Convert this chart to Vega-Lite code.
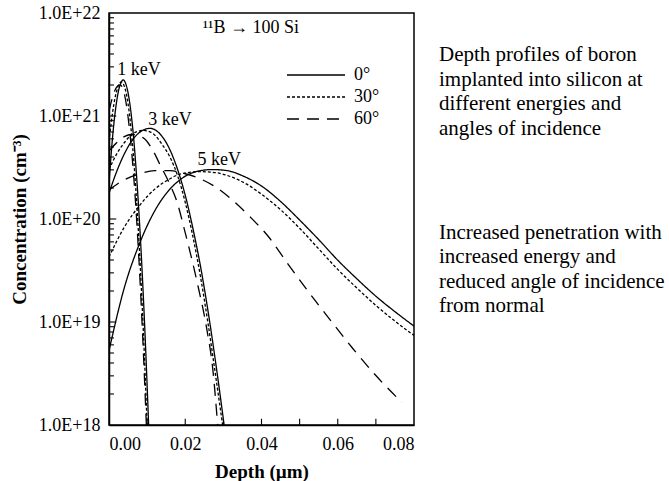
{
  "$schema": "https://vega.github.io/schema/vega-lite/v6.json",
  "width": 305,
  "height": 412,
  "autosize": "none",
  "padding": {"left": 109, "top": 13, "right": 255, "bottom": 56},
  "config": {
    "view": {"stroke": "#000", "strokeWidth": 1.5},
    "font": "Liberation Serif",
    "axis": {"grid": false, "labelFontSize": 18}
  },
  "title": {
    "text": ["Depth profiles of boron", "implanted into silicon at", "different energies and", "angles of incidence"],
    "subtitle": ["Increased penetration with", "increased energy and", "reduced angle of incidence", "from normal"],
    "anchor": "start",
    "frame": "group",
    "orient": "top",
    "dx": 330,
    "dy": 316,
    "font": "Liberation Serif",
    "fontSize": 21,
    "fontWeight": "normal",
    "color": "#000",
    "lineHeight": 24.5,
    "subtitleFont": "Liberation Serif",
    "subtitleFontSize": 21,
    "subtitleColor": "#000",
    "subtitleLineHeight": 24.5,
    "subtitlePadding": 83
  },
  "layer": [
    {
      "data": {"values": [
        {"E": "1 keV", "A": "0°", "d": 0, "c": 2.24e20},
        {"E": "1 keV", "A": "0°", "d": 0.0005, "c": 3.98e20},
        {"E": "1 keV", "A": "0°", "d": 0.001, "c": 6.61e20},
        {"E": "1 keV", "A": "0°", "d": 0.0015, "c": 1.0e21},
        {"E": "1 keV", "A": "0°", "d": 0.002, "c": 1.38e21},
        {"E": "1 keV", "A": "0°", "d": 0.0025, "c": 1.76e21},
        {"E": "1 keV", "A": "0°", "d": 0.003, "c": 2.04e21},
        {"E": "1 keV", "A": "0°", "d": 0.0037, "c": 2.24e21},
        {"E": "1 keV", "A": "0°", "d": 0.0045, "c": 2.0e21},
        {"E": "1 keV", "A": "0°", "d": 0.0055, "c": 1.29e21},
        {"E": "1 keV", "A": "0°", "d": 0.0065, "c": 5.89e20},
        {"E": "1 keV", "A": "0°", "d": 0.0075, "c": 1.86e20},
        {"E": "1 keV", "A": "0°", "d": 0.0085, "c": 4.27e19},
        {"E": "1 keV", "A": "0°", "d": 0.0095, "c": 6.92e18},
        {"E": "1 keV", "A": "0°", "d": 0.0104, "c": 1.0e18},

        {"E": "1 keV", "A": "30°", "d": 0, "c": 5.62e20},
        {"E": "1 keV", "A": "30°", "d": 0.0005, "c": 8.13e20},
        {"E": "1 keV", "A": "30°", "d": 0.001, "c": 1.12e21},
        {"E": "1 keV", "A": "30°", "d": 0.0015, "c": 1.45e21},
        {"E": "1 keV", "A": "30°", "d": 0.002, "c": 1.74e21},
        {"E": "1 keV", "A": "30°", "d": 0.0025, "c": 2.0e21},
        {"E": "1 keV", "A": "30°", "d": 0.0033, "c": 2.14e21},
        {"E": "1 keV", "A": "30°", "d": 0.004, "c": 1.95e21},
        {"E": "1 keV", "A": "30°", "d": 0.005, "c": 1.32e21},
        {"E": "1 keV", "A": "30°", "d": 0.006, "c": 6.17e20},
        {"E": "1 keV", "A": "30°", "d": 0.007, "c": 2.04e20},
        {"E": "1 keV", "A": "30°", "d": 0.008, "c": 4.9e19},
        {"E": "1 keV", "A": "30°", "d": 0.009, "c": 8.32e18},
        {"E": "1 keV", "A": "30°", "d": 0.01, "c": 1.0e18},

        {"E": "1 keV", "A": "60°", "d": 0, "c": 1.12e21},
        {"E": "1 keV", "A": "60°", "d": 0.001, "c": 1.55e21},
        {"E": "1 keV", "A": "60°", "d": 0.002, "c": 1.91e21},
        {"E": "1 keV", "A": "60°", "d": 0.0029, "c": 2.0e21},
        {"E": "1 keV", "A": "60°", "d": 0.004, "c": 1.66e21},
        {"E": "1 keV", "A": "60°", "d": 0.005, "c": 9.77e20},
        {"E": "1 keV", "A": "60°", "d": 0.006, "c": 4.27e20},
        {"E": "1 keV", "A": "60°", "d": 0.007, "c": 1.38e20},
        {"E": "1 keV", "A": "60°", "d": 0.008, "c": 3.16e19},
        {"E": "1 keV", "A": "60°", "d": 0.009, "c": 5.25e18},
        {"E": "1 keV", "A": "60°", "d": 0.0098, "c": 1.0e18},

        {"E": "3 keV", "A": "0°", "d": 0, "c": 1.78e20},
        {"E": "3 keV", "A": "0°", "d": 0.002, "c": 2.88e20},
        {"E": "3 keV", "A": "0°", "d": 0.004, "c": 4.27e20},
        {"E": "3 keV", "A": "0°", "d": 0.006, "c": 5.75e20},
        {"E": "3 keV", "A": "0°", "d": 0.008, "c": 6.92e20},
        {"E": "3 keV", "A": "0°", "d": 0.0108, "c": 7.59e20},
        {"E": "3 keV", "A": "0°", "d": 0.013, "c": 6.92e20},
        {"E": "3 keV", "A": "0°", "d": 0.016, "c": 4.68e20},
        {"E": "3 keV", "A": "0°", "d": 0.018, "c": 3.02e20},
        {"E": "3 keV", "A": "0°", "d": 0.02, "c": 1.7e20},
        {"E": "3 keV", "A": "0°", "d": 0.022, "c": 8.13e19},
        {"E": "3 keV", "A": "0°", "d": 0.024, "c": 3.47e19},
        {"E": "3 keV", "A": "0°", "d": 0.026, "c": 1.26e19},
        {"E": "3 keV", "A": "0°", "d": 0.028, "c": 3.98e18},
        {"E": "3 keV", "A": "0°", "d": 0.0302, "c": 1.0e18},

        {"E": "3 keV", "A": "30°", "d": 0, "c": 3.02e20},
        {"E": "3 keV", "A": "30°", "d": 0.002, "c": 4.27e20},
        {"E": "3 keV", "A": "30°", "d": 0.004, "c": 5.5e20},
        {"E": "3 keV", "A": "30°", "d": 0.006, "c": 6.61e20},
        {"E": "3 keV", "A": "30°", "d": 0.009, "c": 7.24e20},
        {"E": "3 keV", "A": "30°", "d": 0.0115, "c": 6.76e20},
        {"E": "3 keV", "A": "30°", "d": 0.014, "c": 5.25e20},
        {"E": "3 keV", "A": "30°", "d": 0.016, "c": 3.98e20},
        {"E": "3 keV", "A": "30°", "d": 0.018, "c": 2.63e20},
        {"E": "3 keV", "A": "30°", "d": 0.02, "c": 1.45e20},
        {"E": "3 keV", "A": "30°", "d": 0.022, "c": 6.76e19},
        {"E": "3 keV", "A": "30°", "d": 0.024, "c": 2.75e19},
        {"E": "3 keV", "A": "30°", "d": 0.026, "c": 9.55e18},
        {"E": "3 keV", "A": "30°", "d": 0.028, "c": 2.95e18},
        {"E": "3 keV", "A": "30°", "d": 0.0298, "c": 1.0e18},

        {"E": "3 keV", "A": "60°", "d": 0, "c": 4.57e20},
        {"E": "3 keV", "A": "60°", "d": 0.002, "c": 5.5e20},
        {"E": "3 keV", "A": "60°", "d": 0.004, "c": 6.31e20},
        {"E": "3 keV", "A": "60°", "d": 0.006, "c": 6.61e20},
        {"E": "3 keV", "A": "60°", "d": 0.0089, "c": 6.17e20},
        {"E": "3 keV", "A": "60°", "d": 0.0113, "c": 4.79e20},
        {"E": "3 keV", "A": "60°", "d": 0.0136, "c": 3.24e20},
        {"E": "3 keV", "A": "60°", "d": 0.0158, "c": 2.24e20},
        {"E": "3 keV", "A": "60°", "d": 0.0178, "c": 1.48e20},
        {"E": "3 keV", "A": "60°", "d": 0.0199, "c": 7.59e19},
        {"E": "3 keV", "A": "60°", "d": 0.0231, "c": 2.45e19},
        {"E": "3 keV", "A": "60°", "d": 0.0257, "c": 8.32e18},
        {"E": "3 keV", "A": "60°", "d": 0.0272, "c": 3.55e18},
        {"E": "3 keV", "A": "60°", "d": 0.0285, "c": 1.0e18},

        {"E": "5 keV", "A": "0°", "d": 0, "c": 5.25e18},
        {"E": "5 keV", "A": "0°", "d": 0.004, "c": 2.14e19},
        {"E": "5 keV", "A": "0°", "d": 0.0081, "c": 5.89e19},
        {"E": "5 keV", "A": "0°", "d": 0.012, "c": 1.2e20},
        {"E": "5 keV", "A": "0°", "d": 0.0155, "c": 1.86e20},
        {"E": "5 keV", "A": "0°", "d": 0.0186, "c": 2.4e20},
        {"E": "5 keV", "A": "0°", "d": 0.022, "c": 2.82e20},
        {"E": "5 keV", "A": "0°", "d": 0.027, "c": 3.02e20},
        {"E": "5 keV", "A": "0°", "d": 0.031, "c": 2.95e20},
        {"E": "5 keV", "A": "0°", "d": 0.035, "c": 2.63e20},
        {"E": "5 keV", "A": "0°", "d": 0.04, "c": 2.09e20},
        {"E": "5 keV", "A": "0°", "d": 0.045, "c": 1.48e20},
        {"E": "5 keV", "A": "0°", "d": 0.05, "c": 9.77e19},
        {"E": "5 keV", "A": "0°", "d": 0.055, "c": 6.31e19},
        {"E": "5 keV", "A": "0°", "d": 0.06, "c": 3.98e19},
        {"E": "5 keV", "A": "0°", "d": 0.065, "c": 2.63e19},
        {"E": "5 keV", "A": "0°", "d": 0.07, "c": 1.78e19},
        {"E": "5 keV", "A": "0°", "d": 0.075, "c": 1.26e19},
        {"E": "5 keV", "A": "0°", "d": 0.08, "c": 9.12e18},

        {"E": "5 keV", "A": "30°", "d": 0, "c": 4.27e19},
        {"E": "5 keV", "A": "30°", "d": 0.004, "c": 8.32e19},
        {"E": "5 keV", "A": "30°", "d": 0.008, "c": 1.35e20},
        {"E": "5 keV", "A": "30°", "d": 0.012, "c": 1.95e20},
        {"E": "5 keV", "A": "30°", "d": 0.0155, "c": 2.4e20},
        {"E": "5 keV", "A": "30°", "d": 0.019, "c": 2.75e20},
        {"E": "5 keV", "A": "30°", "d": 0.024, "c": 2.88e20},
        {"E": "5 keV", "A": "30°", "d": 0.028, "c": 2.82e20},
        {"E": "5 keV", "A": "30°", "d": 0.032, "c": 2.57e20},
        {"E": "5 keV", "A": "30°", "d": 0.036, "c": 2.19e20},
        {"E": "5 keV", "A": "30°", "d": 0.04, "c": 1.74e20},
        {"E": "5 keV", "A": "30°", "d": 0.045, "c": 1.23e20},
        {"E": "5 keV", "A": "30°", "d": 0.05, "c": 8.13e19},
        {"E": "5 keV", "A": "30°", "d": 0.055, "c": 5.13e19},
        {"E": "5 keV", "A": "30°", "d": 0.06, "c": 3.24e19},
        {"E": "5 keV", "A": "30°", "d": 0.065, "c": 2.14e19},
        {"E": "5 keV", "A": "30°", "d": 0.07, "c": 1.45e19},
        {"E": "5 keV", "A": "30°", "d": 0.075, "c": 1.02e19},
        {"E": "5 keV", "A": "30°", "d": 0.08, "c": 7.41e18},

        {"E": "5 keV", "A": "60°", "d": 0, "c": 1.91e20},
        {"E": "5 keV", "A": "60°", "d": 0.004, "c": 2.4e20},
        {"E": "5 keV", "A": "60°", "d": 0.008, "c": 2.75e20},
        {"E": "5 keV", "A": "60°", "d": 0.012, "c": 2.95e20},
        {"E": "5 keV", "A": "60°", "d": 0.016, "c": 2.95e20},
        {"E": "5 keV", "A": "60°", "d": 0.02, "c": 2.75e20},
        {"E": "5 keV", "A": "60°", "d": 0.024, "c": 2.45e20},
        {"E": "5 keV", "A": "60°", "d": 0.028, "c": 2.04e20},
        {"E": "5 keV", "A": "60°", "d": 0.0325, "c": 1.51e20},
        {"E": "5 keV", "A": "60°", "d": 0.037, "c": 1.05e20},
        {"E": "5 keV", "A": "60°", "d": 0.042, "c": 6.61e19},
        {"E": "5 keV", "A": "60°", "d": 0.047, "c": 3.63e19},
        {"E": "5 keV", "A": "60°", "d": 0.052, "c": 2.04e19},
        {"E": "5 keV", "A": "60°", "d": 0.058, "c": 1.05e19},
        {"E": "5 keV", "A": "60°", "d": 0.064, "c": 5.5e18},
        {"E": "5 keV", "A": "60°", "d": 0.07, "c": 3.02e18},
        {"E": "5 keV", "A": "60°", "d": 0.0768, "c": 1.66e18}
      ]},
      "mark": {"type": "line", "interpolate": "monotone", "color": "#000", "strokeWidth": 1.3, "clip": true},
      "encoding": {
        "x": {
          "field": "d", "type": "quantitative",
          "title": "Depth (µm)",
          "scale": {"domain": [0, 0.08], "nice": false, "zero": false},
          "axis": {
            "values": [0, 0.02, 0.04, 0.06, 0.08],
            "format": ".2f",
            "ticks": false,
            "domainColor": "#000", "domainWidth": 1.5,
            "labelColor": "#000", "labelFont": "Liberation Serif", "labelFontSize": 18,
            "titleColor": "#000", "titleFont": "Liberation Serif", "titleFontSize": 19, "titleFontWeight": "bold",
            "labelPadding": 10,
            "titlePadding": 9
          }
        },
        "y": {
          "field": "c", "type": "quantitative",
          "title": "Concentration (cm⁻³)",
          "scale": {"type": "log", "domain": [1e18, 1e22], "nice": false},
          "axis": {
            "values": [1e18, 1e19, 1e20, 1e21, 1e22],
            "labelExpr": "replace(format(datum.value, '.1e'), 'e', 'E')",
            "ticks": false,
            "domainColor": "#000", "domainWidth": 1.5,
            "labelColor": "#000", "labelFont": "Liberation Serif", "labelFontSize": 18,
            "titleColor": "#000", "titleFont": "Liberation Serif", "titleFontSize": 19, "titleFontWeight": "bold",
            "labelPadding": 9,
            "titlePadding": 9
          }
        },
        "strokeDash": {
          "field": "A", "type": "nominal",
          "scale": {"domain": ["0°", "30°", "60°"], "range": [[1, 0], [3, 2], [12, 8]]},
          "legend": {
            "title": null,
            "orient": "none",
            "legendX": 196,
            "legendY": 51,
            "symbolType": "M-2.9,0H2.9",
            "symbolSize": 400,
            "symbolStrokeWidth": 1.3,
            "symbolStrokeColor": "#000",
            "symbolFillColor": "transparent",
            "labelFont": "Liberation Serif",
            "labelFontSize": 18,
            "labelColor": "#000",
            "labelOffset": 27,
            "rowPadding": 2
          }
        },
        "detail": {"field": "E"}
      }
    },
    {
      "data": {"values": [
        {"t": "1 keV", "d": 0.0079, "c": 2.8e21},
        {"t": "3 keV", "d": 0.016, "c": 9.2e20},
        {"t": "5 keV", "d": 0.0289, "c": 3.7e20},
        {"t": "¹¹B → 100 Si", "d": 0.0372, "c": 7.1e21}
      ]},
      "mark": {"type": "text", "font": "Liberation Serif", "fontSize": 18, "color": "#000", "align": "center", "baseline": "middle"},
      "encoding": {
        "x": {"field": "d", "type": "quantitative", "title": "Depth (µm)"},
        "y": {"field": "c", "type": "quantitative", "title": "Concentration (cm⁻³)"},
        "text": {"field": "t"}
      }
    },
    {
      "data": {"values": [
        {"c": 2e18}, {"c": 3e18}, {"c": 4e18}, {"c": 5e18}, {"c": 6e18}, {"c": 7e18}, {"c": 8e18}, {"c": 9e18},
        {"c": 2e19}, {"c": 3e19}, {"c": 4e19}, {"c": 5e19}, {"c": 6e19}, {"c": 7e19}, {"c": 8e19}, {"c": 9e19},
        {"c": 2e20}, {"c": 3e20}, {"c": 4e20}, {"c": 5e20}, {"c": 6e20}, {"c": 7e20}, {"c": 8e20}, {"c": 9e20},
        {"c": 2e21}, {"c": 3e21}, {"c": 4e21}, {"c": 5e21}, {"c": 6e21}, {"c": 7e21}, {"c": 8e21}, {"c": 9e21}
      ]},
      "mark": {"type": "rule", "color": "#000", "strokeWidth": 1.1, "opacity": 1},
      "encoding": {
        "x": {"datum": 0, "type": "quantitative"},
        "x2": {"datum": 0.0013},
        "y": {"field": "c", "type": "quantitative", "title": "Concentration (cm⁻³)"}
      }
    },
    {
      "data": {"values": [{"c": 1e19}, {"c": 1e20}, {"c": 1e21}]},
      "mark": {"type": "rule", "color": "#000", "strokeWidth": 1.1, "opacity": 1},
      "encoding": {
        "x": {"datum": 0, "type": "quantitative"},
        "x2": {"datum": 0.0019},
        "y": {"field": "c", "type": "quantitative", "title": "Concentration (cm⁻³)"}
      }
    },
    {
      "data": {"values": [{"d": 0.01}, {"d": 0.02}, {"d": 0.03}, {"d": 0.04}, {"d": 0.05}, {"d": 0.06}, {"d": 0.07}]},
      "mark": {"type": "rule", "color": "#000", "strokeWidth": 1.1, "opacity": 1},
      "encoding": {
        "x": {"field": "d", "type": "quantitative", "title": "Depth (µm)"},
        "y": {"datum": 1e18, "type": "quantitative"},
        "y2": {"datum": 1.15e18}
      }
    }
  ]
}
